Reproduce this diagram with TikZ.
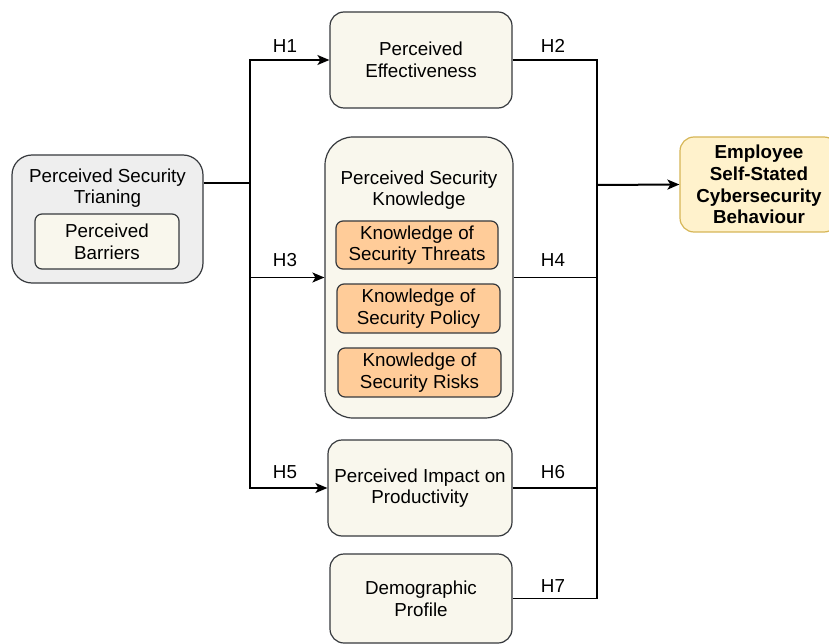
\documentclass[tikz,border=0pt]{standalone}
\usepackage{fontspec}
\setmainfont{Liberation Sans}
\usetikzlibrary{arrows.meta}
\definecolor{strokeg}{HTML}{36393D}
\definecolor{grayfill}{HTML}{EEEEEE}
\definecolor{creamfill}{HTML}{F9F7ED}
\definecolor{orangefill}{HTML}{FFCC99}
\definecolor{yellowfill}{HTML}{FFF2CC}
\definecolor{yellowline}{HTML}{D6B656}
\begin{document}
\begin{tikzpicture}[x=1pt,y=-1pt,font=\fontsize{18.8}{21.7}\selectfont,
	txt/.style={align=center,inner sep=0pt},
	box/.style={txt,draw=strokeg,line width=1.2pt,rounded corners=14pt,fill=creamfill},
	inbox/.style={box,rounded corners=7pt},
	kbox/.style={inbox,fill=orangefill},
	link/.style={line width=1.5pt},
	arr/.style={link,-{Stealth[length=12pt,width=10pt,inset=3pt]}}]
				\useasboundingbox (0,0) rectangle (829,644);
				\node (pst)[box,fill=grayfill,rounded corners=20pt,minimum width=191,minimum height=128] at (107.5,219){};
				\node (psttxt)[txt] at (107.5,188){Perceived Security\\Trianing};
				\node (pb)[inbox,minimum width=144,minimum height=55] at (107,241.5){Perceived\\Barriers};
				\node (pe)[box,minimum width=182,minimum height=96] at (421,60){Perceived\\Effectiveness};
				\node (psk)[box,rounded corners=28pt,minimum width=188,minimum height=281] at (419,277.5){};
				\node (psktxt)[txt] at (419,190){Perceived Security\\Knowledge};
				\node (kt)[kbox,minimum width=162,minimum height=48] at (417,245){Knowledge of\\Security Threats};
				\node (kp)[kbox,minimum width=163,minimum height=49] at (418.5,308.5){Knowledge of\\Security Policy};
				\node (kr)[kbox,minimum width=163,minimum height=49] at (419.5,372.5){Knowledge of\\Security Risks};
				\node (pip)[box,minimum width=184,minimum height=96] at (420,488){Perceived Impact on\\Productivity};
				\node (dp)[box,minimum width=182,minimum height=89] at (421,598.5){Demographic\\Profile};
				\node (eb)[box,fill=yellowfill,draw=yellowline,font=\fontsize{18.8}{21.7}\selectfont\bfseries,minimum width=158,minimum height=95] at (759,184.5){Employee\\Self-Stated\\Cybersecurity\\Behaviour};
				\coordinate (lbus) at (250,183);
				\coordinate (rbus) at (597,185);
				\draw[arr] (pst.east |- lbus) -- (lbus) |- (pe.west);
				\draw[arr] (lbus) |- (psk.west);
				\draw[arr] (lbus) |- (pip.west);
				\draw[link] (pe.east) -| (rbus);
				\draw[link] (psk.east) -| (rbus);
				\draw[link] (pip.east) -| (rbus);
				\draw[link] (dp.east) -| (rbus);
				\draw[arr,line width=2pt] (rbus) -- (eb.west);
				\node (h1) at (285,46){H1};
				\node (h2) at (553,46){H2};
				\node (h3) at (285,260){H3};
				\node (h4) at (553,260){H4};
				\node (h5) at (285,472){H5};
				\node (h6) at (553,472){H6};
				\node (h7) at (553,586){H7};
			\end{tikzpicture}
\end{document}
